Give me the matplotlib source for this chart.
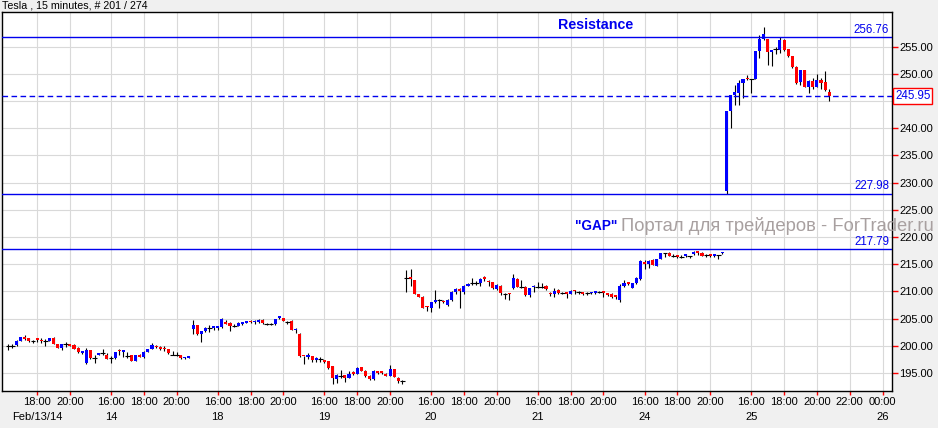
import matplotlib
matplotlib.use("Agg")
import matplotlib.pyplot as plt
from matplotlib.transforms import blended_transform_factory
import numpy as np
import pandas as pd

plt.rcParams['font.family'] = ['Liberation Sans', 'DejaVu Sans']

# ---------------- data ----------------
title = "Tesla , 15 minutes, # 201 / 274"
session_dates = ["2014-02-13", "2014-02-14", "2014-02-18", "2014-02-19",
                 "2014-02-20", "2014-02-21", "2014-02-24", "2014-02-25"]
first_session_start = "16:15"
session_start = "14:30"
session_last_bar = "20:45"
first_date_label = "Feb/13/14"

opens = [
    # Feb 13
    200.0, 200.0, 200.14, 200.94, 201.4, 201.37, 200.95, 201.25, 201.05, 200.88,
    200.94, 201.5, 200.3, 199.53, 200.3, 200.26, 200.1, 199.65, 198.75,
    # Feb 14
    196.8, 199.2, 197.8, 198.3, 198.6, 198.4, 197.85, 197.7, 199.1, 198.95,
    198.2, 198.3, 197.3, 198.4, 197.9, 198.9, 199.4, 200.0, 199.8, 199.6,
    199.4, 198.4, 198.4, 198.3, 197.7, 197.8,
    # Feb 18
    203.1, 203.8, 202.2, 202.7, 203.2, 203.3, 203.3, 203.4, 204.4, 204.2,
    203.7, 203.7, 204.1, 204.25, 204.6, 204.3, 204.45, 204.75, 204.0, 204.0,
    204.0, 205.2, 205.05, 204.4, 204.6, 202.9,
    # Feb 19
    202.2, 198.2, 198.0, 198.2, 197.45, 197.5, 197.4, 197.25, 196.3, 193.9,
    194.45, 194.6, 194.1, 195.0, 194.9, 196.1, 195.4, 194.5, 193.9, 195.2,
    195.15, 194.9, 194.5, 195.7, 194.1, 193.5,
    # Feb 20
    212.4, 212.45, 212.1, 209.45, 209.0, 207.2, 207.0, 208.0, 208.4, 208.2,
    207.5, 208.4, 209.95, 210.4, 209.95, 211.05, 211.5, 211.5, 211.5, 212.7,
    212.0, 211.7, 210.4, 211.05, 209.5, 209.6,
    # Feb 21
    210.6, 212.3, 210.9, 210.9, 209.3, 210.8, 210.9, 210.9, 211.05, 209.8,
    209.5, 210.25, 209.75, 209.75, 209.6, 210.1, 209.95, 209.7, 209.65, 209.7,
    209.8, 209.95, 209.95, 209.75, 209.45, 209.35,
    # Feb 24
    208.4, 211.0, 211.7, 210.7, 211.5, 212.3, 215.5, 215.0, 215.8, 214.7,
    216.0, 217.1, 217.1, 216.55, 216.5, 216.4, 216.6, 216.6, 216.8, 217.2,
    217.1, 216.7, 216.65, 216.6, 216.7, 217.0,
    # Feb 25
    228.45, 243.2, 246.2, 246.4, 248.3, 249.15, 249.1, 249.1, 254.2, 256.4,
    256.4, 254.1, 254.6, 254.4, 256.2, 254.6, 253.2, 251.3, 248.6, 250.7,
    247.6, 248.7, 247.6, 248.9, 248.6, 246.6,
]
highs = [
    200.4, 200.3, 201.0, 201.7, 202.0, 201.4, 201.1, 201.5, 201.4, 201.2,
    201.5, 201.6, 200.4, 200.3, 200.75, 200.4, 200.3, 199.7, 199.0,
    199.65, 199.3, 198.4, 198.7, 199.5, 198.6, 198.2, 198.9, 199.5, 199.05,
    198.8, 198.4, 198.4, 198.5, 199.0, 199.4, 200.45, 200.1, 200.0, 199.9,
    199.5, 199.0, 198.9, 198.4, 198.0, 198.2,
    204.7, 203.9, 202.8, 203.4, 203.8, 203.6, 203.6, 205.2, 204.7, 204.3,
    204.1, 204.3, 204.3, 204.5, 204.7, 204.75, 204.9, 204.9, 204.25, 204.25,
    204.9, 205.5, 205.1, 204.6, 204.7, 203.2,
    202.3, 198.2, 198.6, 198.2, 197.9, 197.9, 197.4, 197.3, 196.3, 194.8,
    195.5, 194.7, 195.3, 195.3, 196.1, 196.2, 195.5, 194.6, 195.5, 195.4,
    195.4, 195.0, 196.4, 195.8, 194.2, 193.8,
    213.9, 214.1, 212.1, 209.6, 209.1, 207.3, 208.1, 210.2, 208.7, 208.5,
    208.6, 210.0, 210.7, 210.7, 211.1, 211.5, 212.4, 211.9, 212.4, 212.8,
    212.1, 211.8, 211.3, 211.1, 209.65, 209.65,
    213.3, 212.4, 212.1, 211.0, 210.6, 211.2, 211.8, 211.5, 211.1, 209.95,
    210.55, 210.4, 209.95, 209.9, 210.2, 210.25, 210.1, 209.8, 209.95, 209.95,
    210.1, 210.1, 209.95, 209.8, 209.65, 209.4,
    211.3, 212.1, 211.75, 211.6, 212.6, 215.8, 215.8, 215.7, 215.9, 216.0,
    217.1, 217.15, 217.2, 216.8, 216.7, 216.7, 216.8, 216.6, 217.4, 217.3,
    217.2, 216.9, 216.7, 216.85, 216.75, 217.3,
    243.2, 246.2, 248.0, 248.9, 249.1, 249.8, 249.1, 254.3, 257.1, 258.7,
    256.5, 254.3, 255.0, 256.8, 256.5, 254.6, 253.3, 251.4, 250.8, 250.8,
    248.8, 249.2, 249.9, 249.2, 250.5, 247.3,
]
lows = [
    199.2, 199.65, 200.0, 200.9, 201.1, 200.8, 200.45, 200.7, 200.6, 200.0,
    200.9, 200.3, 199.6, 199.2, 199.85, 199.9, 199.4, 198.6, 198.5,
    196.6, 197.6, 196.8, 198.3, 198.4, 197.5, 196.9, 197.6, 198.4, 197.9,
    197.7, 197.2, 197.2, 197.9, 197.8, 198.8, 199.35, 199.6, 199.2, 199.0,
    198.5, 198.3, 198.1, 197.5, 197.5, 197.7,
    202.1, 202.0, 200.8, 202.6, 202.6, 203.0, 203.0, 203.2, 204.0, 202.8,
    203.4, 203.6, 203.8, 204.2, 204.2, 204.0, 204.25, 204.1, 203.85, 203.85,
    203.9, 204.9, 204.5, 204.1, 202.9, 202.4,
    198.0, 196.6, 197.5, 197.1, 197.1, 197.1, 196.8, 195.8, 193.0, 193.2,
    194.0, 193.3, 194.0, 194.7, 194.8, 195.3, 194.3, 193.7, 193.8, 194.9,
    194.9, 194.4, 194.4, 194.2, 193.1, 193.0,
    209.95, 211.0, 209.5, 208.9, 206.9, 206.4, 206.3, 207.9, 206.9, 207.8,
    207.4, 208.3, 209.5, 206.9, 209.5, 211.0, 211.2, 211.2, 211.05, 212.0,
    211.05, 210.4, 210.3, 209.3, 208.7, 208.4,
    210.4, 210.75, 210.7, 209.2, 209.0, 209.95, 210.7, 210.7, 210.2, 209.2,
    209.0, 209.6, 209.45, 208.8, 209.5, 209.45, 209.45, 209.4, 209.35, 209.45,
    209.5, 209.65, 209.0, 209.15, 208.85, 208.7,
    208.0, 210.9, 211.2, 210.55, 211.4, 212.1, 214.1, 214.4, 214.8, 214.6,
    215.9, 216.4, 216.5, 216.25, 216.1, 216.15, 216.3, 216.1, 216.7, 216.7,
    216.5, 216.4, 216.3, 216.4, 215.9, 216.8,
    227.98, 240.1, 244.3, 244.2, 245.6, 248.9, 246.4, 249.0, 252.9, 256.2,
    251.6, 251.5, 253.6, 253.8, 254.2, 253.1, 251.1, 248.2, 247.9, 247.5,
    246.4, 247.3, 247.5, 247.3, 246.9, 245.0,
]
closes = [
    200.0, 200.0, 200.88, 201.55, 201.3, 200.94, 200.95, 201.1, 200.88, 200.88,
    201.37, 200.3, 199.65, 200.26, 200.3, 199.95, 199.5, 198.8, 198.85,
    199.2, 197.7, 197.8, 198.6, 198.6, 197.6, 197.85, 198.8, 199.0, 199.05,
    198.2, 197.3, 198.3, 198.0, 198.9, 199.35, 200.1, 199.7, 199.5, 199.4,
    198.6, 198.4, 198.4, 197.7, 197.75, 197.9,
    203.8, 202.2, 202.7, 203.3, 203.2, 203.4, 203.4, 205.0, 204.1, 203.7,
    203.7, 204.25, 204.2, 204.35, 204.3, 204.6, 204.75, 204.25, 204.0, 204.0,
    204.85, 205.3, 204.6, 204.4, 203.0, 203.0,
    198.2, 198.1, 198.4, 197.4, 197.55, 197.5, 197.1, 196.0, 194.1, 194.6,
    194.45, 194.1, 194.9, 194.9, 196.0, 195.4, 194.5, 193.9, 195.4, 195.1,
    195.05, 194.5, 195.7, 194.3, 193.5, 193.5,
    212.4, 212.3, 209.6, 209.0, 207.0, 207.1, 208.0, 208.4, 208.4, 208.0,
    208.4, 209.95, 210.4, 210.1, 211.05, 211.35, 211.5, 211.5, 212.3, 212.2,
    211.7, 210.6, 211.2, 209.8, 209.5, 209.5,
    212.4, 210.9, 210.9, 209.3, 210.55, 210.9, 210.9, 210.9, 210.4, 209.5,
    210.1, 209.8, 209.75, 209.6, 210.1, 210.0, 209.95, 209.6, 209.65, 209.8,
    209.85, 209.95, 209.8, 209.3, 209.0, 208.9,
    211.0, 211.5, 211.3, 211.5, 212.4, 215.6, 215.0, 215.6, 214.9, 215.9,
    217.0, 217.1, 216.55, 216.55, 216.4, 216.4, 216.7, 216.6, 217.3, 217.1,
    216.55, 216.7, 216.55, 216.7, 216.7, 217.1,
    243.2, 246.2, 246.7, 248.3, 249.1, 249.05, 249.1, 254.2, 256.4, 257.3,
    254.1, 254.2, 254.6, 256.2, 254.4, 253.2, 251.2, 248.4, 250.7, 247.6,
    248.7, 247.6, 248.9, 248.4, 247.0, 245.95,
]

resistance_label = "Resistance"
resistance_level = 256.76
last_price = 245.95
gap_levels = [227.98, 217.79]
gap_label = "\"GAP\""
brand_label = "Портал для трейдеров - ForTrader.ru"
y_ticks = [195, 200, 205, 210, 215, 220, 225, 230, 235, 240, 245, 250, 255]

# ---------------- time axis ----------------
stamps = []
for k, d in enumerate(session_dates):
    st = first_session_start if k == 0 else session_start
    stamps += list(pd.date_range(pd.Timestamp(f"{d} {st}"),
                                 pd.Timestamp(f"{d} {session_last_bar}"), freq="15min"))
n_bars = len(stamps)
ext = list(pd.date_range(stamps[-1] + pd.Timedelta("15min"), periods=16, freq="15min"))
all_stamps = stamps + ext

tick_idx, tick_lab, date_idx, date_lab = [], [], [], []
seen_dates = set()
for k, t in enumerate(all_stamps):
    if t.minute == 0 and t.hour % 2 == 0 and (t.hour >= 16 or t.hour == 0):
        tick_idx.append(k)
        tick_lab.append(t.strftime("%H:%M"))
        if t.date() not in seen_dates:
            seen_dates.add(t.date())
            date_idx.append(k)
            date_lab.append(first_date_label if not date_lab else str(t.day))

# ---------------- figure ----------------
W, H = 938, 428
fig = plt.figure(figsize=(W / 100, H / 100), dpi=100, facecolor="#f0f0f0")
L, R, T, B = 2, 892, 12, 391
ax = fig.add_axes([L / W, 1 - B / H, (R - L) / W, (B - T) / H])
ax.set_facecolor("white")

o = np.array(opens); h = np.array(highs); l = np.array(lows); c = np.array(closes)
x = np.arange(len(o))
up = c > o
eq = c == o
ax.vlines(x, l, h, color="black", lw=0.8, zorder=3)
bot = np.minimum(o, c)
hgt = np.maximum(np.abs(c - o), 0.28)
cols = np.where(up, "#0000ff", "#ff0000")
ax.bar(x[~eq], hgt[~eq], bottom=bot[~eq], width=0.75, color=cols[~eq],
       linewidth=0, zorder=4)
ax.hlines(o[eq], x[eq] - 0.6, x[eq] + 0.6, color="black", lw=0.8, zorder=4)

ax.set_xlim(-1.55, 215.3)
ax.set_ylim(191.7, 261.38)

blue = "#0000ee"
ax.axhline(resistance_level, color=blue, lw=1, zorder=5)
for gl in gap_levels:
    ax.axhline(gl, color=blue, lw=1, zorder=5)
ax.axhline(last_price, color=blue, lw=1, ls=(0, (4, 2.5)), zorder=5)

tr = blended_transform_factory(ax.transAxes, ax.transData)
for lv in [resistance_level] + gap_levels:
    ax.text(0.9968, lv + 0.25, f"{lv:.2f}", transform=tr, ha="right", va="bottom",
            fontsize=8.3, color=blue, zorder=6)

ax.text(1.0035, last_price, f"{last_price:.2f}", transform=tr, ha="left", va="center",
        fontsize=8.3, color=blue, zorder=10, clip_on=False,
        bbox=dict(boxstyle="square,pad=0.15", fc="white", ec="red", lw=1))

fig.text(596 / W, 1 - 25 / H, resistance_label, ha="center", va="center",
         fontsize=10.3, fontweight="bold", color=blue)
fig.text(575 / W, 1 - 226 / H, gap_label, ha="left", va="center",
         fontsize=9.8, fontweight="bold", color=blue)
fig.text(621 / W, 1 - 226 / H, brand_label, ha="left", va="center",
         fontsize=13.2, color="#a8a0a0")

fig.text(2 / W, 1 - 6 / H, title, ha="left", va="center", fontsize=7.7, color="black")

# axes styling
ax.yaxis.tick_right()
ax.set_yticks(y_ticks)
ax.set_yticklabels([f"{v:.2f}" for v in y_ticks])
ax.set_xticks(tick_idx)
ax.set_xticklabels(tick_lab)
ax.tick_params(axis="y", which="both", direction="out", length=4, width=1,
               color="red", labelcolor="black", labelsize=8, pad=1)
ax.tick_params(axis="x", which="both", direction="out", length=3, width=1,
               color="red", labelcolor="black", labelsize=8, pad=1.5)
ax.grid(True, color="#d9d9d9", lw=0.8)
ax.set_axisbelow(True)
for sp in ax.spines.values():
    sp.set_color("black")
    sp.set_linewidth(1.0)

trx = blended_transform_factory(ax.transData, ax.transAxes)
for di, dl in zip(date_idx, date_lab):
    ax.text(di, -26.0 / (B - T), dl, transform=trx, ha="center", va="center",
            fontsize=8, color="black", clip_on=False)

fig.savefig("out.png", dpi=100, facecolor=fig.get_facecolor())
